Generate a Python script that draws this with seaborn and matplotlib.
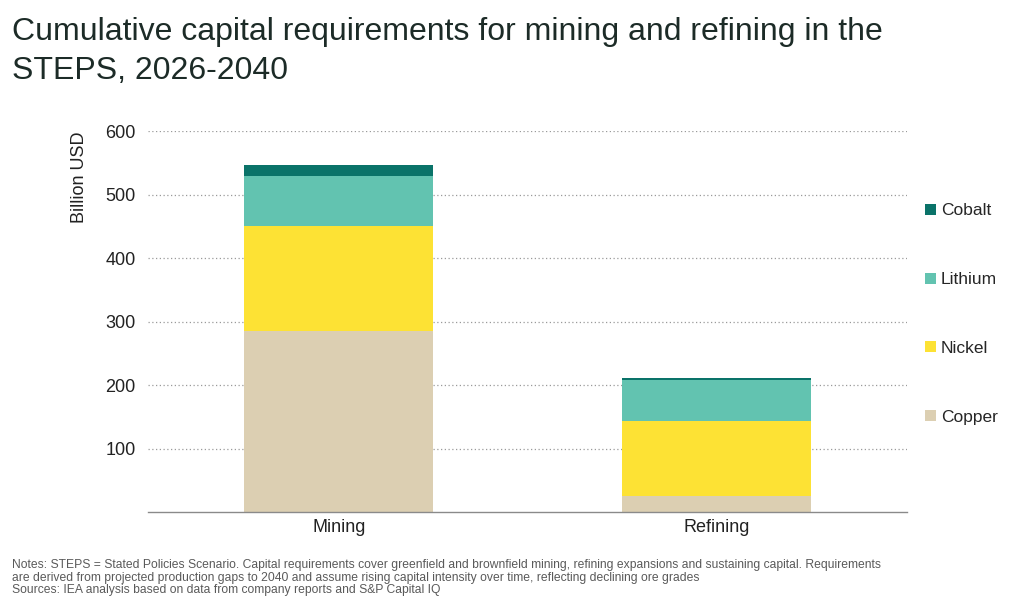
import matplotlib
matplotlib.use("Agg")
import matplotlib.pyplot as plt
import seaborn as sns
import pandas as pd
import numpy as np

stages = ["Mining", "Refining"]
copper = [285, 25]
nickel = [165, 118]
lithium = [80, 65]
cobalt = [16, 3]

minerals = ["Copper", "Nickel", "Lithium", "Cobalt"]
colors = {"Copper": "#dccfb2", "Nickel": "#fde234", "Lithium": "#62c3b0", "Cobalt": "#0a7369"}

df = pd.DataFrame({"Stage": stages, "Copper": copper, "Nickel": nickel,
                   "Lithium": lithium, "Cobalt": cobalt})

sns.set_style("white")
plt.rcParams['font.family'] = ['Liberation Sans', 'DejaVu Sans']

fig = plt.figure(figsize=(10.24, 5.99), dpi=100)
ax = fig.add_axes([0.1445, 0.145, 0.741, 0.636])

# stacked bars: draw cumulative totals from top layer down
cum = df[minerals].cumsum(axis=1)
for m in reversed(minerals):
    sns.barplot(x=df["Stage"], y=cum[m], color=colors[m], width=0.5,
                saturation=1, ax=ax, label=m, edgecolor="none", linewidth=0)

ax.set_xlim(-0.505, 1.503)
ax.set_ylim(0, 600)
ax.set_yticks([100, 200, 300, 400, 500, 600])
ax.yaxis.grid(True, linestyle=(0, (1, 2)), color="#9a9a9a", linewidth=0.9)
ax.set_axisbelow(True)
for s in ["top", "right", "left"]:
    ax.spines[s].set_visible(False)
ax.spines["bottom"].set_color("#8a8a8a")
ax.spines["bottom"].set_linewidth(1.0)
ax.tick_params(axis="both", length=0, labelsize=13, colors="#222222")
ax.tick_params(axis="y", pad=9)
ax.tick_params(axis="x", pad=5)
ax.set_xlabel("")
ax.set_ylabel("Billion USD", fontsize=13, color="#222222", loc="top", labelpad=12)

handles, labels = ax.get_legend_handles_labels()
ax.legend_ = None
fig.legend(handles, labels, loc="upper left", bbox_to_anchor=(0.897, 0.672),
           frameon=False, fontsize=12.5, handlelength=0.6, handleheight=0.6,
           handletextpad=0.3, labelspacing=3.1, borderaxespad=0)

fig.text(0.012, 0.972, "Cumulative capital requirements for mining and refining in the\nSTEPS, 2026-2040",
         fontsize=23, color="#1c2b27", va="top", ha="left", linespacing=1.4)

fig.text(0.012, 0.067,
         "Notes: STEPS = Stated Policies Scenario. Capital requirements cover greenfield and brownfield mining, refining expansions and sustaining capital. Requirements\n"
         "are derived from projected production gaps to 2040 and assume rising capital intensity over time, reflecting declining ore grades\n"
         "Sources: IEA analysis based on data from company reports and S&P Capital IQ",
         fontsize=8.7, color="#5a5a5a", va="top", ha="left", linespacing=1.08)

fig.savefig("out.png", dpi=100)
